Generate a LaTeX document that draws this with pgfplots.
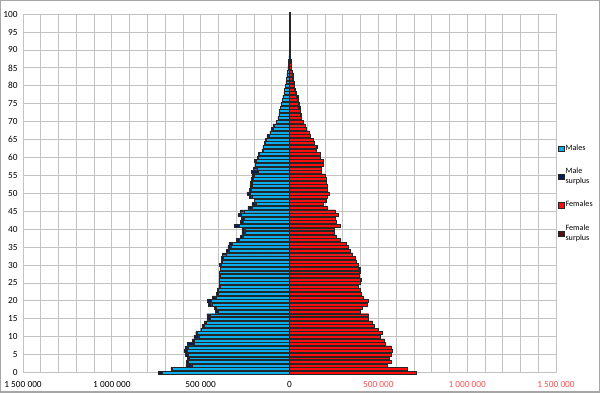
\documentclass[border=0pt]{standalone}
\usepackage{pgfplots}
\pgfplotsset{compat=1.18}
\usepackage{pgfplotstable}
\usepackage{fontspec}
\setmainfont{Carlito}
\definecolor{mblue}{RGB}{10,174,236}
\definecolor{mnavy}{RGB}{5,30,90}
\definecolor{fred}{RGB}{255,12,12}
\definecolor{fdark}{RGB}{85,15,15}
\definecolor{lred}{RGB}{255,80,80}
\definecolor{gridc}{RGB}{195,195,195}
\pgfplotstableread{
age M F C
0 740 715 715
1 668 660 660
2 583 550 550
3 580 570 570
4 577 563 563
5 586 571 571
6 593 576 576
7 589 572 572
8 575 537 537
9 548 535 535
10 538 510 510
11 528 520 520
12 500 498 498
13 494 478 478
14 481 468 468
15 466 445 445
16 466 445 445
17 416 400 400
18 425 411 411
19 456 438 438
20 462 442 442
21 436 415 415
22 412 402 402
23 406 400 400
24 398 388 388
25 398 395 395
26 396 402 396
27 394 391 391
28 394 396 394
29 388 396 388
30 394 387 387
31 385 377 377
32 382 372 372
33 379 355 355
34 356 340 340
35 347 330 330
36 341 321 321
37 300 283 283
38 276 262 262
39 268 252 252
40 268 252 252
41 310 283 283
42 276 260 260
43 272 255 255
44 291 274 274
45 276 258 258
46 235 212 212
47 212 190 190
48 200 206 200
49 225 213 213
50 240 222 222
51 226 214 214
52 223 211 211
53 220 208 208
54 216 204 204
55 212 198 198
56 216 176 176
57 205 180 180
58 191 192 191
59 197 189 189
60 182 174 174
61 174 170 170
62 156 148 148
63 150 155 150
64 141 138 138
65 135 132 132
66 128 115 115
67 111 108 108
68 103 92 92
69 94 86 86
70 75 79 75
71 66 68 66
72 60 66 60
73 58 60 58
74 51 62 51
75 47 57 47
76 41 50 41
77 38 47 38
78 32 40 32
79 28 34 28
80 24 29 24
81 21 25 21
82 17 21 17
83 15 18 15
84 13 15 13
85 9 12 9
86 7 10 7
87 5 8 5
88 4 6 4
89 3 5 3
90 2 4 2
91 2 3 2
92 1.5 3 1.5
93 1 2.5 1
94 1 2 1
95 1 2 1
96 0.5 1.5 0.5
97 0.5 1 0.5
98 0.5 1 0.5
99 0.5 1 0.5
100 2 2.5 2
}\pop
\begin{document}
\begin{tikzpicture}
\begin{axis}[
  scale only axis,
  width=400pt, height=269pt,
  xmin=-1500, xmax=1500, ymin=0, ymax=100,
  xtick={-1500,-1000,-500,0,500,1000,1500},
  xticklabels={1 500 000,1 000 000,500 000,0,{\color{lred}500 000},{\color{lred}1 000 000},{\color{lred}1 500 000}},
  minor x tick num=4,
  ytick={0,5,...,100},
  xmajorgrids, xminorgrids, ymajorgrids,
  grid style={gridc, line width=0.6pt},
  minor grid style={gridc, line width=0.6pt},
  major tick length=0pt, minor tick length=0pt,
  axis line style={gridc, line width=0.6pt},
  tick label style={font=\fontsize{7}{8}\selectfont, black},
  xticklabel style={yshift=-3pt},
  yticklabel style={xshift=-0.5pt},
  /pgf/number format/assume math mode=true,
  xbar, bar width=0.82, bar shift=0pt,
  legend style={at={(1.004,0.5)}, anchor=west, draw=none, fill=none,
    inner sep=0pt, font=\fontsize{6.1}{7.1}\selectfont, row sep=10pt,
    nodes={inner sep=1pt},
    cells={align=left, anchor=west}},
  legend image code/.code={\draw[#1, line width=0.35pt] (0pt,-2pt) rectangle (4pt,2pt);},
  clip=false,
]
\addplot[forget plot, fill=mnavy, draw=black!85, line width=0.3pt] table[x expr=-\thisrow{M}, y=age] {\pop};
\addplot[forget plot, fill=mblue, draw=black!85, line width=0.3pt] table[x expr=-\thisrow{C}, y=age] {\pop};
\addplot[forget plot, fill=fdark, draw=black!85, line width=0.3pt] table[x=F, y=age] {\pop};
\addplot[forget plot, fill=fred, draw=black!85, line width=0.3pt] table[x=C, y=age] {\pop};
\addlegendimage{fill=mblue, draw=black!85}
\addlegendentry{Males}
\addlegendimage{fill=mnavy, draw=black!85}
\addlegendentry{Male\\surplus}
\addlegendimage{fill=fred, draw=black!85}
\addlegendentry{Females}
\addlegendimage{fill=fdark, draw=black!85}
\addlegendentry{Female\\surplus}
\end{axis}
\draw[gray!70, line width=0.8pt] ([xshift=-16.9pt,yshift=-14.6pt]current axis.south west) rectangle ([xshift=32.6pt,yshift=10.2pt]current axis.north east);
\pgfresetboundingbox
\path[use as bounding box] ([xshift=-17.3pt,yshift=-15pt]current axis.south west) rectangle ([xshift=33pt,yshift=10.6pt]current axis.north east);
\end{tikzpicture}
\end{document}
